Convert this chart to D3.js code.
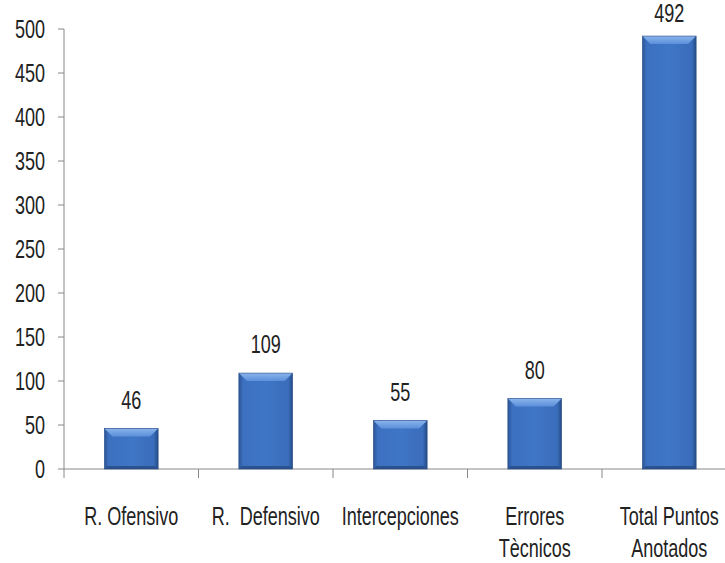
<!DOCTYPE html>
<html><head><meta charset="utf-8">
<script src="https://cdn.jsdelivr.net/npm/d3@7"></script>
<style>
html,body{margin:0;padding:0;background:#fff;}
svg{display:block;}
text{font-family:"Liberation Sans",Arial,sans-serif;fill:#222;}
</style></head>
<body>
<svg id="c" width="725" height="563"></svg>
<script>
const categories = [["R. Ofensivo"], ["R.  Defensivo"], ["Intercepciones"], ["Errores", "Tècnicos"], ["Total Puntos", "Anotados"]];
const values = [46, 109, 55, 80, 492];
const yTicks = [0, 50, 100, 150, 200, 250, 300, 350, 400, 450, 500];

const svg = d3.select("#c");
const x0 = 64, yTop = 29, yBase = 469, bandW = 134.5;
const x = d3.scaleBand().domain(d3.range(values.length)).range([x0, x0 + bandW * values.length]).paddingInner(0.6).paddingOuter(0.3);
const y = d3.scaleLinear().domain([0, 500]).range([yBase, yTop]);

const SX = 0.82, SY = 1.13, FS = 22;
function label(parent, tx, ty, str, anchor) {
  return parent.append("text")
    .attr("transform", `translate(${tx},${ty}) scale(${SX},${SY})`)
    .attr("text-anchor", anchor || "middle")
    .attr("font-size", FS)
    .style("white-space", "pre")
    .text(str);
}

const defs = svg.append("defs");
const g1 = defs.append("linearGradient").attr("id", "bodyG").attr("x1", 0).attr("x2", 1).attr("y1", 0).attr("y2", 0);
[[0, "#2b5597"], [0.08, "#3c70c0"], [0.5, "#3f76c6"], [0.92, "#3a6dbb"], [1, "#244a84"]].forEach(s => g1.append("stop").attr("offset", s[0]).attr("stop-color", s[1]));
const g2 = defs.append("linearGradient").attr("id", "topG").attr("x1", 0).attr("x2", 0).attr("y1", 0).attr("y2", 1);
[[0, "#8ab4ec"], [1, "#5b8fda"]].forEach(s => g2.append("stop").attr("offset", s[0]).attr("stop-color", s[1]));

// axes
const axisColor = "#888888";
svg.append("line").attr("x1", x0).attr("x2", x0).attr("y1", y(500)).attr("y2", yBase).attr("stroke", axisColor).attr("stroke-width", 1);
svg.append("line").attr("x1", x0).attr("x2", 725).attr("y1", yBase).attr("y2", yBase).attr("stroke", axisColor).attr("stroke-width", 1);

const yt = svg.append("g");
yTicks.forEach(t => {
  yt.append("line").attr("x1", x0 - 6).attr("x2", x0).attr("y1", y(t)).attr("y2", y(t)).attr("stroke", axisColor);
  label(yt, 45, y(t) + 9, String(t), "end");
});

// category boundary ticks
d3.range(values.length + 1).forEach(i => {
  const bx = x0 + i * bandW;
  svg.append("line").attr("x1", bx).attr("x2", bx).attr("y1", yBase).attr("y2", yBase + 9).attr("stroke", axisColor);
});

// bars
values.forEach((v, i) => {
  const bx = x(i), bw = x.bandwidth(), by = y(v), bh = yBase - by;
  const g = svg.append("g");
  g.append("rect").attr("x", bx).attr("y", by).attr("width", bw).attr("height", bh).attr("fill", "url(#bodyG)");
  const bev = Math.min(8, bh / 3);
  g.append("polygon").attr("points", `${bx},${by} ${bx + bw},${by} ${bx + bw - bev},${by + bev} ${bx + bev},${by + bev}`).attr("fill", "url(#topG)");
  g.append("polygon").attr("points", `${bx},${yBase} ${bx + bw},${yBase} ${bx + bw - 3},${yBase - 3} ${bx + 3},${yBase - 3}`).attr("fill", "#2a5290");
  g.append("rect").attr("x", bx).attr("y", by).attr("width", bw).attr("height", bh).attr("fill", "none").attr("stroke", "#2a4f88").attr("stroke-width", 0.6);
  label(svg, bx + bw / 2, Math.max(by - 20, 22), String(v));
});

// category labels
categories.forEach((lines, i) => {
  const cx = x(i) + x.bandwidth() / 2;
  lines.forEach((ln, j) => label(svg, cx, 525 + j * 32, ln));
});
</script>
</body></html>
